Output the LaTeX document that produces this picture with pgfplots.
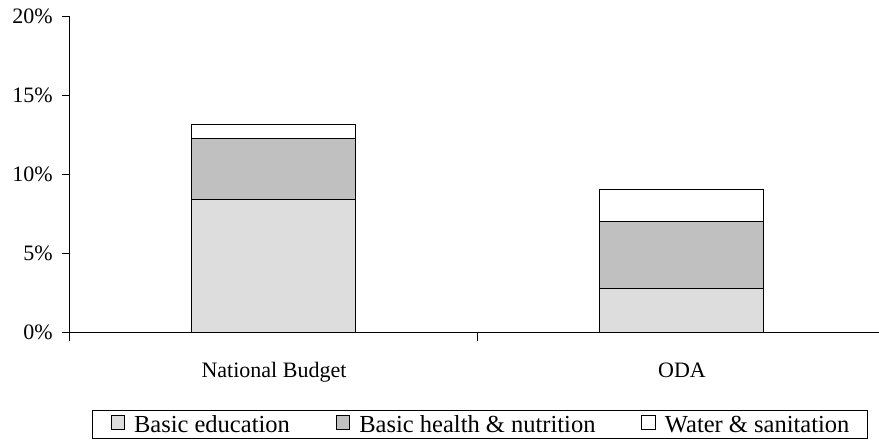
\documentclass[border=0pt]{standalone}
\usepackage{pgfplots}
\pgfplotsset{compat=1.18}
\usepackage{fontspec}
\setmainfont{Liberation Serif}
\definecolor{edu}{HTML}{DDDDDD}
\definecolor{hea}{HTML}{C0C0C0}
\pgfplotsset{sq/.style={legend image code/.code={\draw[##1, line width=1pt] (0pt,-4.5pt) rectangle (13.5pt,9pt);}}}
\begin{document}
\begin{tikzpicture}[x=1pt,y=1pt]
\useasboundingbox (0,0) rectangle (879,440);
\begin{axis}[
  at={(70pt,107.3pt)}, anchor=south west,
  width=809pt, height=316.7pt, scale only axis,
  xmin=0, xmax=1.983, ymin=0, ymax=20,
  axis x line=bottom, axis y line=left,
  axis line style={-, line width=1pt, black},
  ybar stacked, bar width=164pt,
  xtick={0,1}, xticklabels={},
  extra x ticks={0.5,1.5}, extra x tick labels={National Budget,ODA},
  extra x tick style={major tick length=0pt, tick label style={inner sep=0pt, anchor=base, yshift=-45pt}},
  ytick={0,5,10,15,20}, yticklabels={0\%,5\%,10\%,15\%,20\%},
  yticklabel style={inner sep=0pt, anchor=east, xshift=-9pt},
  tick align=outside, major tick length=8pt,
  tick style={black, line width=1pt},
  ticklabel style={font=\fontsize{22}{26}\selectfont},
  legend columns=3,
  legend style={at={(0.5068,-0.29)}, anchor=center, draw=black, line width=1pt,
    font=\fontsize{24.5}{28}\selectfont, inner xsep=18pt, inner ysep=5pt,
    nodes={inner sep=0pt},
    /tikz/every odd column/.append style={column sep=9pt},
    /tikz/every even column/.append style={column sep=46pt}},
]
\addplot[fill=edu, draw=black, line width=1pt, sq] coordinates {(0.5,8.4) (1.5,2.8)};
\addplot[fill=hea, draw=black, line width=1pt, sq] coordinates {(0.5,3.85) (1.5,4.25)};
\addplot[fill=white, draw=black, line width=1pt, sq] coordinates {(0.5,0.9) (1.5,2.0)};
\legend{Basic education, Basic health \& nutrition, Water \& sanitation}
\end{axis}
\end{tikzpicture}
\end{document}
